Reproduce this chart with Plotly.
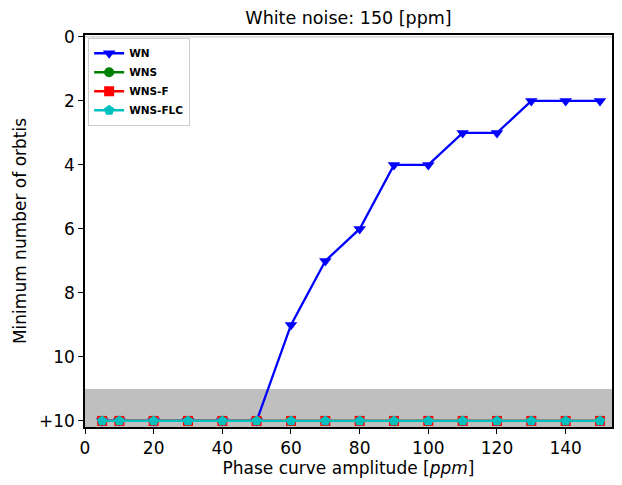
import plotly.graph_objects as go

amplitude = [5, 10, 20, 30, 40, 50, 60, 70, 80, 90, 100, 110, 120, 130, 140, 150]
wn = [12, 12, 12, 12, 12, 12, 9, 7, 6, 4, 4, 3, 3, 2, 2, 2]
wns = [12] * 16
wns_f = [12] * 16
wns_flc = [12] * 16

y_tickvals = [0, 2, 4, 6, 8, 10, 12]
y_ticktext = ["0", "2", "4", "6", "8", "10", "+10"]
x_tickvals = [0, 20, 40, 60, 80, 100, 120, 140]

series = [
    ("WN", wn, "#0000FF", "triangle-down", 11),
    ("WNS", wns, "#008000", "circle", 10),
    ("WNS-F", wns_f, "#FF0000", "square", 10),
    ("WNS-FLC", wns_flc, "#00BFBF", "pentagon", 11),
]

fig = go.Figure()
for name, vals, color, sym, size in series:
    fig.add_trace(go.Scatter(
        x=amplitude, y=vals, name=name, mode="lines+markers",
        line=dict(color=color, width=2.3),
        marker=dict(symbol=sym, size=size, color=color, line=dict(width=0)),
    ))

fig.add_shape(type="rect", xref="paper", yref="y", x0=0, x1=1, y0=11, y1=12.3,
              fillcolor="#BFBFBF", line=dict(width=0), layer="below")
fig.add_shape(type="line", xref="paper", yref="y", x0=0, x1=1, y0=0, y1=0,
              line=dict(color="#BFBFBF", width=1), layer="below")

fig.update_layout(
    width=622, height=485,
    margin=dict(l=77, r=18, t=27, b=66, autoexpand=False),
    paper_bgcolor="white", plot_bgcolor="white",
    font=dict(family="DejaVu Sans", color="black", size=17),
    title=dict(text="White noise: 150 [ppm]", x=0.5, xref="paper", xanchor="center",
               y=1 - 10 / 485, yanchor="middle", font=dict(size=17.5),
               automargin=False),
    showlegend=True,
    legend=dict(x=0.006, y=0.993, xanchor="left", yanchor="top",
                bgcolor="white", bordercolor="#CCCCCC", borderwidth=1,
                font=dict(size=10.5, family="DejaVu Sans", weight="bold"),
                tracegroupgap=0, itemwidth=30),
)
fig.update_xaxes(
    range=[0, 153.5], tickvals=x_tickvals, ticks="outside", ticklen=5,
    tickwidth=1, tickcolor="black", showline=True, linecolor="black",
    linewidth=1.5, mirror=True, showgrid=False, zeroline=False,
    title=dict(text="Phase curve amplitude [<i>ppm</i>]", font=dict(size=17), standoff=1),
    tickfont=dict(size=17), automargin=False,
)
fig.update_yaxes(
    range=[12.19, -0.06], tickvals=y_tickvals, ticktext=y_ticktext,
    ticks="outside", ticklen=5, tickwidth=1, tickcolor="black",
    showline=True, linecolor="black", linewidth=1.5, mirror=True,
    showgrid=False, zeroline=False,
    title=dict(text="Minimum number of orbtis", font=dict(size=17), standoff=8),
    tickfont=dict(size=17), automargin=False,
)

fig.write_html("out.html")
